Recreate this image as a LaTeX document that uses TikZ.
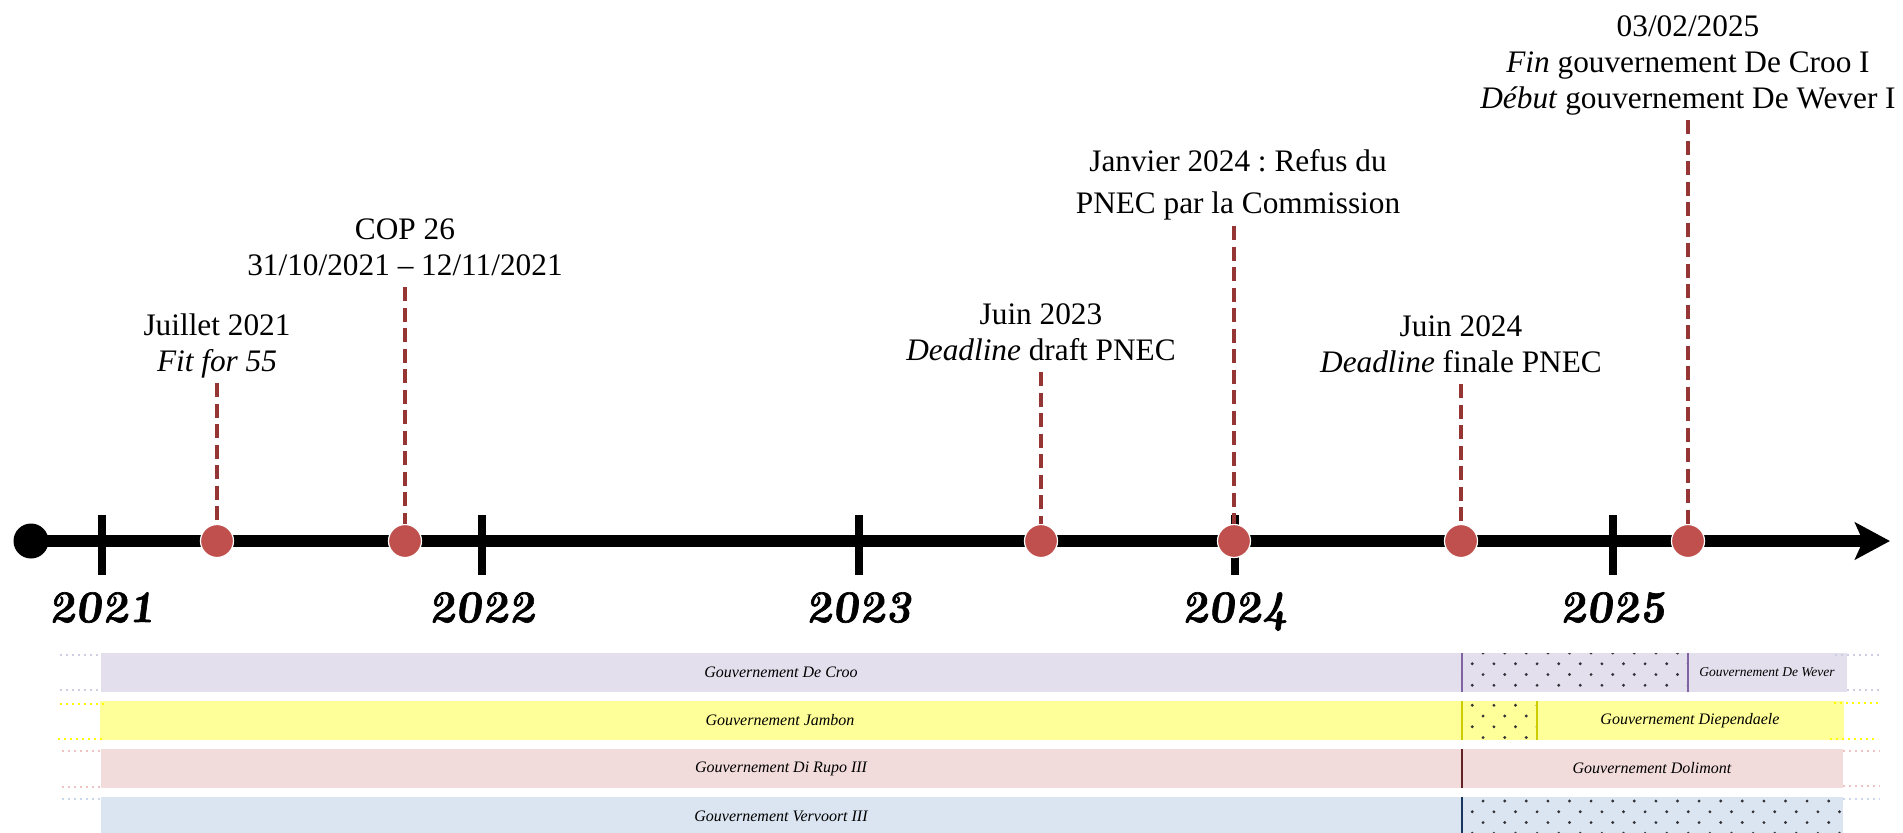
\documentclass[tikz,border=0pt]{standalone}
\usepackage{fontspec}
\newfontfamily\labfont{Liberation Serif}
\newfontfamily\yearfont{lmroman10-bolditalic}[Extension=.otf,FakeBold=1.4,FakeSlant=-0.12]
\usetikzlibrary{arrows.meta}
\definecolor{evtred}{RGB}{192,80,77}
\definecolor{evtdark}{RGB}{150,54,52}
\definecolor{dotgray}{RGB}{50,50,55}
\definecolor{lavfill}{RGB}{228,223,236}
\definecolor{lavline}{RGB}{128,100,162}
\definecolor{lavdot}{RGB}{205,205,228}
\definecolor{ylwfill}{RGB}{255,255,153}
\definecolor{ylwline}{RGB}{204,204,0}
\definecolor{ylwdot}{RGB}{255,255,0}
\definecolor{pnkfill}{RGB}{242,220,219}
\definecolor{pnkline}{RGB}{99,37,35}
\definecolor{pnkdot}{RGB}{240,195,195}
\definecolor{blufill}{RGB}{219,229,241}
\definecolor{bluline}{RGB}{23,54,93}
\definecolor{bludot}{RGB}{200,215,235}
\newcommand\hatchdots[5]{%
 \begin{scope}
 \clip (#1,#2) rectangle (#3,#4);
 \foreach \j in {0,...,4}{\foreach \k in {0,2,...,40}{
   \fill[dotgray] ({#1+10.8*(\k+mod(\j,2))},{#5+10.75*\j}) circle[radius=0.8pt];
 }}
 \end{scope}}
\begin{document}
\begin{tikzpicture}[x=0.5pt,y=-0.5pt,
 evtlabel/.style={font=\labfont\frenchspacing\fontsize{15.65}{18}\selectfont,align=center,anchor=south,inner sep=0pt},
 yearlabel/.style={font=\yearfont\fontsize{22.5}{27}\selectfont,anchor=base,inner sep=0pt},
 evtdot/.style={circle,fill=evtred,draw=white,line width=0.6pt,minimum size=16.5pt,inner sep=0pt},
 evtline/.style={draw=evtdark,line width=1.75pt,dash pattern=on 7pt off 3.25pt},
 tickmark/.style={line width=4.3pt},
 govlabel/.style={font=\labfont\itshape\fontsize{8}{9.6}\selectfont,inner sep=0pt},
 bandedge/.style={dotted,line width=1pt},
 sepline/.style={line width=1pt}
]
\useasboundingbox (0,0) rectangle (1903,832);

% axis
\node[circle,fill=black,minimum size=17.5pt,inner sep=0pt] (start) at (31,541) {};
\coordinate (axisend) at (1890,541);
\draw[line width=6pt,-{Stealth[length=17.5pt,width=18.5pt,inset=4pt]}] (start.center) -- (axisend);

\foreach \x/\y in {102/2021,482/2022,859/2023,1235/2024,1613/2025}{
 \draw[tickmark] (\x,515) -- (\x,575);
 \node[yearlabel] (y\y) at (\x,622) {\y};
}

% event labels
\node[evtlabel] (l1) at (217,383) {Juillet 2021\\\textit{Fit for 55}\strut};
\node[evtlabel] (l2) at (405,287) {COP 26\\31/10/2021 – 12/11/2021\strut};
\node[evtlabel] (l3) at (1041,372) {Juin 2023\\\textit{Deadline} draft PNEC\strut};
\node[evtlabel,font=\labfont\frenchspacing\fontsize{15.65}{21}\selectfont] (l4) at (1238,226) {Janvier 2024 : Refus du\\PNEC par la Commission\strut};
\node[evtlabel] (l5) at (1461,384) {Juin 2024\\\textit{Deadline} finale PNEC\strut};
\node[evtlabel] (l6) at (1688,120) {03/02/2025\\\textit{Fin} gouvernement De Croo I\\\textit{Début} gouvernement De Wever I\strut};

% event dots
\node[evtdot] (d1) at (217,541) {};
\node[evtdot] (d2) at (405,541) {};
\node[evtdot] (d3) at (1041,541) {};
\node[evtdot] (d4) at (1234,541) {};
\node[evtdot] (d5) at (1461,541) {};
\node[evtdot] (d6) at (1688,541) {};

\foreach \i in {1,...,6} \draw[evtline] (l\i.south -| d\i) -- (d\i.north);

% row 1
\fill[lavfill] (101,653) rectangle (1847,692);
\hatchdots{1461.5}{653}{1688}{692}{653}
\draw[sepline,lavline] (1462,653) -- (1462,692);
\draw[sepline,lavline] (1688,653) -- (1688,692);
\node[govlabel] (g1) at (781,672.5) {Gouvernement De Croo};
\node[govlabel,font=\labfont\itshape\fontsize{6.75}{8}\selectfont] (g2) at (1767,672.5) {Gouvernement De Wever};
\draw[bandedge,lavdot] (60,654.5) -- (101,654.5);
\draw[bandedge,lavdot] (60,690) -- (101,690);
\draw[bandedge,lavdot] (1835,654.5) -- (1880,654.5);
\draw[bandedge,lavdot] (1847,690) -- (1880,690);

% row 2
\fill[ylwfill] (100,701) rectangle (1844,740);
\hatchdots{1461.5}{701}{1537}{740}{694.5}
\draw[sepline,ylwline] (1462,701) -- (1462,740);
\draw[sepline,ylwline] (1537,701) -- (1537,740);
\node[govlabel] (g3) at (780,720.5) {Gouvernement Jambon};
\node[govlabel] (g4) at (1690,720.5) {Gouvernement Diependaele};
\draw[bandedge,ylwdot] (60,703.5) -- (106,703.5);
\draw[bandedge,ylwdot] (58,738.5) -- (106,738.5);
\draw[bandedge,ylwdot] (1834,703) -- (1880,703);
\draw[bandedge,ylwdot] (1830,738.5) -- (1878,738.5);

% row 3
\fill[pnkfill] (101,749) rectangle (1843,788);
\draw[sepline,pnkline] (1462,749) -- (1462,788);
\node[govlabel] (g5) at (781,768.5) {Gouvernement Di Rupo III};
\node[govlabel] (g6) at (1652,768.5) {Gouvernement Dolimont};
\draw[bandedge,pnkdot] (62,751) -- (101,751);
\draw[bandedge,pnkdot] (62,786.5) -- (101,786.5);
\draw[bandedge,pnkdot] (1843,750.5) -- (1880,750.5);
\draw[bandedge,pnkdot] (1843,785.5) -- (1880,785.5);

% row 4
\fill[blufill] (101,797) rectangle (1843,836);
\hatchdots{1461.5}{797}{1843}{836}{801}
\draw[sepline,bluline] (1462,797) -- (1462,836);
\node[govlabel] (g7) at (781,816.5) {Gouvernement Vervoort III};
\draw[bandedge,bludot] (62,799) -- (101,799);
\draw[bandedge,bludot] (1843,798.5) -- (1880,798.5);
\end{tikzpicture}
\end{document}
